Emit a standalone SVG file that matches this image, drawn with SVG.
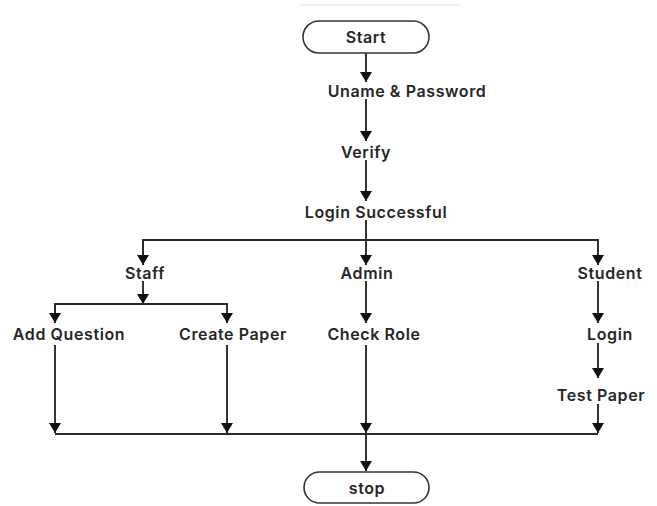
<svg xmlns="http://www.w3.org/2000/svg" width="657" height="506" viewBox="0 0 657 506">
<style>
.t{font-family:Inter,"Noto Sans",sans-serif;font-weight:600;font-size:16px;fill:#262626;text-anchor:middle;dominant-baseline:central;letter-spacing:0.6px}
.pill{fill:#fff;stroke:#333;stroke-width:1.6}
.c{fill:none;stroke:#2a2a2a;stroke-width:1.9}
</style>
<defs>
<marker id="ah" viewBox="0 0 10 12" refX="10" refY="6" markerWidth="10" markerHeight="12" markerUnits="userSpaceOnUse" orient="auto">
<path d="M0,0 L10,6 L0,12 Z" fill="#111"/>
</marker>
</defs>
<rect width="657" height="506" fill="#fff"/>
<line x1="300" y1="5" x2="460" y2="5" stroke="#f2f2f2" stroke-width="2"/>
<g id="connectors">
<line class="c" x1="366" y1="53" x2="366" y2="82" marker-end="url(#ah)"/>
<line class="c" x1="366" y1="99" x2="366" y2="141" marker-end="url(#ah)"/>
<line class="c" x1="366" y1="160" x2="366" y2="201" marker-end="url(#ah)"/>
<line class="c" x1="366" y1="220" x2="366" y2="265" marker-end="url(#ah)"/>
<polyline class="c" points="143,265 143,240 598,240 598,265" marker-end="url(#ah)"/>
<line class="c" x1="143" y1="240" x2="143" y2="265" marker-end="url(#ah)"/>
<line class="c" x1="143" y1="281" x2="143" y2="304" marker-end="url(#ah)"/>
<polyline class="c" points="55,323 55,304 227,304 227,323" marker-end="url(#ah)"/>
<line class="c" x1="55" y1="304" x2="55" y2="323" marker-end="url(#ah)"/>
<line class="c" x1="366" y1="281" x2="366" y2="323" marker-end="url(#ah)"/>
<line class="c" x1="598" y1="281" x2="598" y2="323" marker-end="url(#ah)"/>
<line class="c" x1="598" y1="343" x2="598" y2="378" marker-end="url(#ah)"/>
<line class="c" x1="598" y1="404" x2="598" y2="433" marker-end="url(#ah)"/>
<line class="c" x1="55" y1="345" x2="55" y2="433" marker-end="url(#ah)"/>
<line class="c" x1="227" y1="345" x2="227" y2="433" marker-end="url(#ah)"/>
<line class="c" x1="366" y1="345" x2="366" y2="433" marker-end="url(#ah)"/>
<line class="c" x1="55" y1="434" x2="598" y2="434"/>
<line class="c" x1="366" y1="434" x2="366" y2="471" marker-end="url(#ah)"/>
</g>
<g id="start"><rect class="pill" x="303" y="21" width="126" height="32" rx="16"/><text class="t" x="366" y="37">Start</text></g>
<g id="uname"><text class="t" x="407" y="91">Uname &amp; Password</text></g>
<g id="verify"><text class="t" x="366" y="152">Verify</text></g>
<g id="login-successful"><text class="t" x="376" y="212">Login Successful</text></g>
<g id="staff"><text class="t" x="145" y="273">Staff</text></g>
<g id="admin"><text class="t" x="367" y="273">Admin</text></g>
<g id="student"><text class="t" x="610" y="273">Student</text></g>
<g id="add-question"><text class="t" x="69" y="334">Add Question</text></g>
<g id="create-paper"><text class="t" x="233" y="334">Create Paper</text></g>
<g id="check-role"><text class="t" x="374" y="334">Check Role</text></g>
<g id="login"><text class="t" x="610" y="334">Login</text></g>
<g id="test-paper"><text class="t" x="601" y="395">Test Paper</text></g>
<g id="stop"><rect class="pill" x="304" y="472" width="125" height="31" rx="15.5"/><text class="t" x="367" y="488">stop</text></g>
</svg>
